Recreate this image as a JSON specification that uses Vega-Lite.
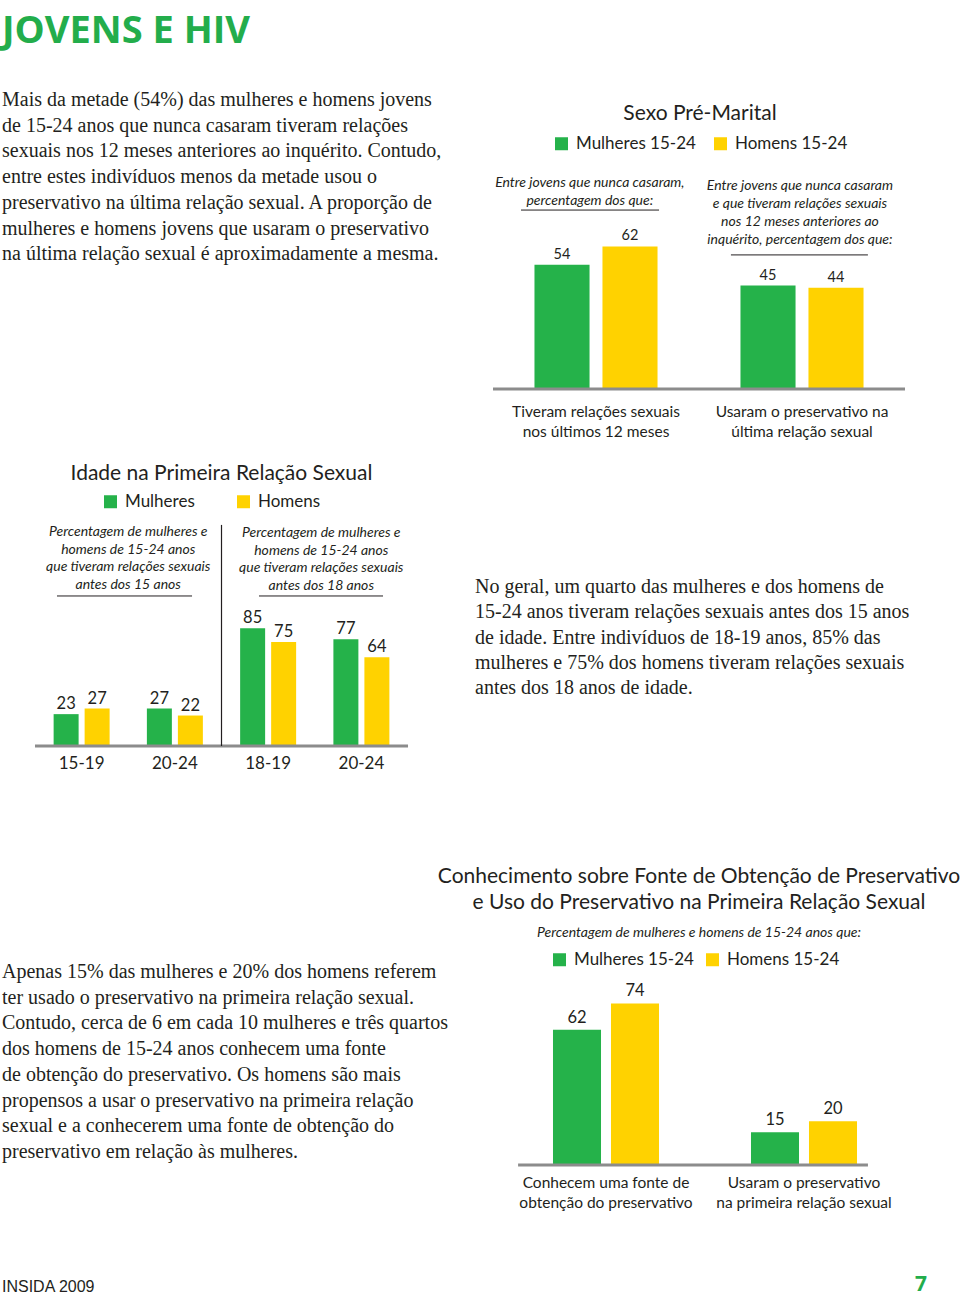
{
  "$schema": "https://vega.github.io/schema/vega-lite/v6.json",
  "background": "white",
  "padding": {"left": 2, "top": 0, "right": 0, "bottom": 3},
  "columns": 2,
  "spacing": 0,
  "bounds": "flush",
  "align": "each",
  "resolve": {
    "scale": {"x": "independent", "y": "independent", "xOffset": "independent", "color": "independent"},
    "legend": {"color": "independent"},
    "axis": {"x": "independent", "y": "independent"}
  },
  "config": {"view": {"stroke": null}, "font": "Lato"},
  "datasets": {
    "sexo": [
      {"grupo": "Tiveram relações sexuais|nos últimos 12 meses", "sexo": "Mulheres 15-24", "valor": 54},
      {"grupo": "Tiveram relações sexuais|nos últimos 12 meses", "sexo": "Homens 15-24", "valor": 62},
      {"grupo": "Usaram o preservativo na|última relação sexual", "sexo": "Mulheres 15-24", "valor": 45},
      {"grupo": "Usaram o preservativo na|última relação sexual", "sexo": "Homens 15-24", "valor": 44}
    ],
    "idade": [
      {"grupo": "A|15-19", "sexo": "Mulheres", "valor": 23},
      {"grupo": "A|15-19", "sexo": "Homens", "valor": 27},
      {"grupo": "A|20-24", "sexo": "Mulheres", "valor": 27},
      {"grupo": "A|20-24", "sexo": "Homens", "valor": 22},
      {"grupo": "B|18-19", "sexo": "Mulheres", "valor": 85},
      {"grupo": "B|18-19", "sexo": "Homens", "valor": 75},
      {"grupo": "B|20-24", "sexo": "Mulheres", "valor": 77},
      {"grupo": "B|20-24", "sexo": "Homens", "valor": 64}
    ],
    "conh": [
      {"grupo": "Conhecem uma fonte de|obtenção do preservativo", "sexo": "Mulheres 15-24", "valor": 62},
      {"grupo": "Conhecem uma fonte de|obtenção do preservativo", "sexo": "Homens 15-24", "valor": 74},
      {"grupo": "Usaram o preservativo|na primeira relação sexual", "sexo": "Mulheres 15-24", "valor": 15},
      {"grupo": "Usaram o preservativo|na primeira relação sexual", "sexo": "Homens 15-24", "valor": 20}
    ]
  },
  "concat": [
    {
      "width": 473, "height": 51,
      "data": {"values": [{"t": "JOVENS E HIV"}]},
      "mark": {"type": "text", "align": "left", "baseline": "bottom", "font": "Open Sans", "fontWeight": "bold", "fontSize": 38, "color": "#23ad4b"},
      "encoding": {
        "x": {"datum": 0, "type": "quantitative", "scale": {"domain": [0, 1]}, "axis": null},
        "y": {"datum": 0, "type": "quantitative", "scale": {"domain": [0, 1]}, "axis": null},
        "text": {"field": "t"}
      }
    },
    {"width": 1, "height": 90, "data": {"values": []}, "mark": "point"},
    {
      "width": 473, "height": 487,
      "data": {"values": [{"t": "Mais da metade (54%) das mulheres e homens jovens\nde 15-24 anos que nunca casaram tiveram relações\nsexuais nos 12 meses anteriores ao inquérito. Contudo,\nentre estes indivíduos menos da metade usou o\npreservativo na última relação sexual. A proporção de\nmulheres e homens jovens que usaram o preservativo\nna última relação sexual é aproximadamente a mesma."}]},
      "mark": {"type": "text", "align": "left", "baseline": "top", "font": "Liberation Serif", "fontSize": 20, "lineHeight": 25.7, "lineBreak": "\n", "color": "#231f20"},
      "encoding": {
        "x": {"datum": 0, "type": "quantitative", "scale": {"domain": [0, 1]}, "axis": null},
        "y": {"datum": 1, "type": "quantitative", "scale": {"domain": [0, 1]}, "axis": null},
        "text": {"field": "t"}
      }
    },
    {
      "width": 430, "height": 299,
      "title": {"text": "Sexo Pré-Marital", "font": "Lato", "fontSize": 21, "fontWeight": "normal", "color": "#231f20", "anchor": "middle", "frame": "group", "offset": -34, "dx": 10},
      "layer": [
        {
          "data": {"name": "sexo"},
          "mark": {"type": "bar"},
          "encoding": {
            "x": {"field": "grupo", "type": "nominal", "scale": {"domain": ["Tiveram relações sexuais|nos últimos 12 meses", "Usaram o preservativo na|última relação sexual"], "paddingInner": 0, "paddingOuter": 0.0437, "align": 1},
              "axis": {"title": null, "ticks": false, "grid": false, "domain": false, "labelAngle": 0, "labelExpr": "split(datum.label, '|')", "labelFont": "Lato", "labelFontSize": 15.5, "labelColor": "#231f20", "labelLineHeight": 20, "labelPadding": 15, "labelLimit": 0}},
            "xOffset": {"field": "sexo", "type": "nominal", "scale": {"domain": ["Mulheres 15-24", "Homens 15-24"], "paddingInner": 0.19, "paddingOuter": 0.61}},
            "y": {"field": "valor", "type": "quantitative", "scale": {"domain": [0, 130], "nice": false}, "axis": null},
            "color": {"field": "sexo", "type": "nominal", "scale": {"domain": ["Mulheres 15-24", "Homens 15-24"], "range": ["#25b24a", "#ffd200"]},
              "legend": {"title": null, "orient": "none", "legendX": 78, "legendY": 45, "direction": "horizontal", "symbolType": "square", "symbolSize": 169, "symbolStrokeWidth": 0, "labelFont": "Lato", "labelFontSize": 17, "labelColor": "#231f20", "labelOffset": 6, "columnPadding": 16}}
          }
        },
        {
          "data": {"name": "sexo"},
          "mark": {"type": "text", "baseline": "alphabetic", "dy": -6, "font": "Lato", "fontSize": 14.5, "color": "#231f20"},
          "encoding": {
            "x": {"field": "grupo", "type": "nominal"},
            "xOffset": {"field": "sexo", "type": "nominal"},
            "y": {"field": "valor", "type": "quantitative"},
            "text": {"field": "valor", "type": "quantitative"}
          }
        },
        {
          "data": {"values": [{}]},
          "mark": {"type": "rule", "color": "#8c8c8c", "strokeWidth": 3},
          "encoding": {
            "x": {"datum": "Tiveram relações sexuais|nos últimos 12 meses", "bandPosition": 0},
            "x2": {"datum": "Usaram o preservativo na|última relação sexual", "bandPosition": 1},
            "y": {"datum": 0}
          }
        },
        {
          "data": {"values": [{"nota": "Entre jovens que nunca casaram,\npercentagem dos que:"}]},
          "mark": {"type": "text", "font": "Lato", "fontStyle": "italic", "fontSize": 14, "lineBreak": "\n", "lineHeight": 18, "baseline": "middle", "align": "center", "color": "#231f20"},
          "encoding": {
            "x": {"datum": "Tiveram relações sexuais|nos últimos 12 meses", "bandPosition": 0.47},
            "y": {"datum": 89.6},
            "text": {"field": "nota"}
          }
        },
        {
          "data": {"values": [{"nota": "Entre jovens que nunca casaram\ne que tiveram relações sexuais\nnos 12 meses anteriores ao\ninquérito, percentagem dos que:"}]},
          "mark": {"type": "text", "font": "Lato", "fontStyle": "italic", "fontSize": 14, "lineBreak": "\n", "lineHeight": 18, "baseline": "middle", "align": "center", "color": "#231f20"},
          "encoding": {
            "x": {"datum": "Usaram o preservativo na|última relação sexual", "bandPosition": 0.49},
            "y": {"datum": 88.3},
            "text": {"field": "nota"}
          }
        },
        {
          "data": {"values": [{}]},
          "mark": {"type": "rule", "color": "#231f20", "strokeWidth": 1},
          "encoding": {
            "x": {"datum": "Tiveram relações sexuais|nos últimos 12 meses", "bandPosition": 0.136},
            "x2": {"datum": "Tiveram relações sexuais|nos últimos 12 meses", "bandPosition": 0.806},
            "y": {"datum": 77.8}
          }
        },
        {
          "data": {"values": [{}]},
          "mark": {"type": "rule", "color": "#231f20", "strokeWidth": 1},
          "encoding": {
            "x": {"datum": "Usaram o preservativo na|última relação sexual", "bandPosition": 0.155},
            "x2": {"datum": "Usaram o preservativo na|última relação sexual", "bandPosition": 0.82},
            "y": {"datum": 58.3}
          }
        }
      ]
    },
    {
      "width": 473, "height": 169,
      "title": {"text": "Idade na Primeira Relação Sexual", "font": "Lato", "fontSize": 21, "fontWeight": "normal", "color": "#231f20", "anchor": "middle", "frame": "group", "offset": 9, "dx": -17},
      "layer": [
        {
          "data": {"name": "idade"},
          "mark": {"type": "bar"},
          "encoding": {
            "x": {"field": "grupo", "type": "nominal", "scale": {"domain": ["A|15-19", "A|20-24", "B|18-19", "B|20-24"], "paddingInner": 0, "paddingOuter": 0.536, "align": 0.33},
              "axis": {"title": null, "ticks": false, "grid": false, "domain": false, "labelAngle": 0, "labelExpr": "split(datum.label, '|')[1]", "labelFont": "Lato", "labelFontSize": 17, "labelColor": "#231f20", "labelPadding": 9, "labelLimit": 0}},
            "xOffset": {"field": "sexo", "type": "nominal", "scale": {"domain": ["Mulheres", "Homens"], "paddingInner": 0.194, "paddingOuter": 0.601}},
            "y": {"field": "valor", "type": "quantitative", "scale": {"domain": [0, 122], "nice": false}, "axis": null},
            "color": {"field": "sexo", "type": "nominal", "scale": {"domain": ["Mulheres", "Homens"], "range": ["#25b24a", "#ffd200"]},
              "legend": {"title": null, "orient": "none", "legendX": 100, "legendY": -84, "direction": "horizontal", "symbolType": "square", "symbolSize": 169, "symbolStrokeWidth": 0, "labelFont": "Lato", "labelFontSize": 17, "labelColor": "#231f20", "labelOffset": 6, "columnPadding": 40}}
          }
        },
        {
          "data": {"name": "idade"},
          "mark": {"type": "text", "baseline": "alphabetic", "dy": -5, "font": "Lato", "fontSize": 16.5, "color": "#231f20"},
          "encoding": {
            "x": {"field": "grupo", "type": "nominal"},
            "xOffset": {"field": "sexo", "type": "nominal"},
            "y": {"field": "valor", "type": "quantitative"},
            "text": {"field": "valor", "type": "quantitative"}
          }
        },
        {
          "data": {"values": [{}]},
          "mark": {"type": "rule", "color": "#8c8c8c", "strokeWidth": 3},
          "encoding": {
            "x": {"datum": "A|15-19", "bandPosition": 0},
            "x2": {"datum": "B|20-24", "bandPosition": 1},
            "y": {"datum": 0}
          }
        },
        {
          "data": {"values": [{}]},
          "mark": {"type": "rule", "color": "#231f20", "strokeWidth": 1.2},
          "encoding": {
            "x": {"datum": "A|20-24", "bandPosition": 1},
            "y": {"datum": 159.6},
            "y2": {"datum": 0}
          }
        },
        {
          "data": {"values": [{"nota": "Percentagem de mulheres e\nhomens de 15-24 anos\nque tiveram relações sexuais\nantes dos 15 anos"}]},
          "mark": {"type": "text", "font": "Lato", "fontStyle": "italic", "fontSize": 14, "lineBreak": "\n", "lineHeight": 17.7, "baseline": "middle", "align": "center", "color": "#231f20"},
          "encoding": {
            "x": {"datum": "A|15-19", "bandPosition": 1},
            "y": {"datum": 154.5},
            "text": {"field": "nota"}
          }
        },
        {
          "data": {"values": [{"nota": "Percentagem de mulheres e\nhomens de 15-24 anos\nque tiveram relações sexuais\nantes dos 18 anos"}]},
          "mark": {"type": "text", "font": "Lato", "fontStyle": "italic", "fontSize": 14, "lineBreak": "\n", "lineHeight": 17.7, "baseline": "middle", "align": "center", "color": "#231f20"},
          "encoding": {
            "x": {"datum": "B|20-24", "bandPosition": 0.07},
            "y": {"datum": 153.8},
            "text": {"field": "nota"}
          }
        },
        {
          "data": {"values": [{}]},
          "mark": {"type": "rule", "color": "#231f20", "strokeWidth": 1},
          "encoding": {
            "x": {"datum": "A|15-19", "bandPosition": 0.236},
            "x2": {"datum": "A|20-24", "bandPosition": 0.684},
            "y": {"datum": 108.3}
          }
        },
        {
          "data": {"values": [{}]},
          "mark": {"type": "rule", "color": "#231f20", "strokeWidth": 1},
          "encoding": {
            "x": {"datum": "B|18-19", "bandPosition": 0.402},
            "x2": {"datum": "B|20-24", "bandPosition": 0.732},
            "y": {"datum": 108.3}
          }
        }
      ]
    },
    {
      "width": 455, "height": 385,
      "data": {"values": [{"t": "No geral, um quarto das mulheres e dos homens de\n15-24 anos tiveram relações sexuais antes dos 15 anos\nde idade. Entre indivíduos de 18-19 anos, 85% das\nmulheres e 75% dos homens tiveram relações sexuais\nantes dos 18 anos de idade."}]},
      "mark": {"type": "text", "align": "left", "baseline": "top", "font": "Liberation Serif", "fontSize": 20, "lineHeight": 25.3, "lineBreak": "\n", "color": "#231f20"},
      "encoding": {
        "x": {"datum": 0, "type": "quantitative", "scale": {"domain": [0, 1]}, "axis": null},
        "y": {"datum": 1, "type": "quantitative", "scale": {"domain": [0, 1]}, "axis": null},
        "text": {"field": "t"}
      }
    },
    {
      "width": 473, "height": 203,
      "data": {"values": [{"t": "Apenas 15% das mulheres e 20% dos homens referem\nter usado o preservativo na primeira relação sexual.\nContudo, cerca de 6 em cada 10 mulheres e três quartos\ndos homens de 15-24 anos conhecem uma fonte\nde obtenção do preservativo. Os homens são mais\npropensos a usar o preservativo na primeira relação\nsexual e a conhecerem uma fonte de obtenção do\npreservativo em relação às mulheres."}]},
      "mark": {"type": "text", "align": "left", "baseline": "top", "font": "Liberation Serif", "fontSize": 20, "lineHeight": 25.7, "lineBreak": "\n", "color": "#231f20"},
      "encoding": {
        "x": {"datum": 0, "type": "quantitative", "scale": {"domain": [0, 1]}, "axis": null},
        "y": {"datum": 1, "type": "quantitative", "scale": {"domain": [0, 1]}, "axis": null},
        "text": {"field": "t"}
      }
    },
    {
      "width": 428, "height": 203,
      "title": {"text": ["Conhecimento sobre Fonte de Obtenção de Preservativo", "e Uso do Preservativo na Primeira Relação Sexual"], "lineHeight": 26, "font": "Lato", "fontSize": 21, "fontWeight": "normal", "color": "#231f20", "anchor": "middle", "frame": "group", "offset": 11, "dx": 10,
        "subtitle": "Percentagem de mulheres e homens de 15-24 anos que:", "subtitleFont": "Lato", "subtitleFontStyle": "italic", "subtitleFontSize": 14, "subtitleColor": "#231f20", "subtitlePadding": 13},
      "layer": [
        {
          "data": {"name": "conh"},
          "mark": {"type": "bar"},
          "encoding": {
            "x": {"field": "grupo", "type": "nominal", "scale": {"domain": ["Conhecem uma fonte de|obtenção do preservativo", "Usaram o preservativo|na primeira relação sexual"], "paddingInner": 0, "paddingOuter": 0.0808, "align": 1},
              "axis": {"title": null, "ticks": false, "grid": false, "domain": false, "labelAngle": 0, "labelExpr": "split(datum.label, '|')", "labelFont": "Lato", "labelFontSize": 15.5, "labelColor": "#231f20", "labelLineHeight": 20, "labelPadding": 10, "labelLimit": 0}},
            "xOffset": {"field": "sexo", "type": "nominal", "scale": {"domain": ["Mulheres 15-24", "Homens 15-24"], "paddingInner": 0.172, "paddingOuter": 0.793}},
            "y": {"field": "valor", "type": "quantitative", "scale": {"domain": [0, 93], "nice": false}, "axis": null},
            "color": {"field": "sexo", "type": "nominal", "scale": {"domain": ["Mulheres 15-24", "Homens 15-24"], "range": ["#25b24a", "#ffd200"]},
              "legend": {"title": null, "orient": "none", "legendX": 76, "legendY": -11, "direction": "horizontal", "symbolType": "square", "symbolSize": 169, "symbolStrokeWidth": 0, "labelFont": "Lato", "labelFontSize": 17, "labelColor": "#231f20", "labelOffset": 6, "columnPadding": 10}}
          }
        },
        {
          "data": {"name": "conh"},
          "mark": {"type": "text", "baseline": "alphabetic", "dy": -7, "font": "Lato", "fontSize": 16.5, "color": "#231f20"},
          "encoding": {
            "x": {"field": "grupo", "type": "nominal"},
            "xOffset": {"field": "sexo", "type": "nominal"},
            "y": {"field": "valor", "type": "quantitative"},
            "text": {"field": "valor", "type": "quantitative"}
          }
        },
        {
          "data": {"values": [{}]},
          "mark": {"type": "rule", "color": "#8c8c8c", "strokeWidth": 3},
          "encoding": {
            "x": {"datum": "Conhecem uma fonte de|obtenção do preservativo", "bandPosition": 0.056},
            "x2": {"datum": "Usaram o preservativo|na primeira relação sexual", "bandPosition": 0.823},
            "y": {"datum": 0}
          }
        }
      ]
    },
    {
      "width": 473, "height": 130,
      "data": {"values": [{"t": "INSIDA 2009"}]},
      "mark": {"type": "text", "align": "left", "baseline": "bottom", "font": "Liberation Sans", "fontSize": 16, "color": "#231f20"},
      "encoding": {
        "x": {"datum": 0, "type": "quantitative", "scale": {"domain": [0, 1]}, "axis": null},
        "y": {"datum": 0, "type": "quantitative", "scale": {"domain": [0, 1]}, "axis": null},
        "text": {"field": "t"}
      }
    },
    {
      "width": 452, "height": 130,
      "data": {"values": [{"t": "7"}]},
      "mark": {"type": "text", "align": "right", "baseline": "bottom", "font": "Open Sans", "fontWeight": "bold", "fontSize": 21, "color": "#23ad4b"},
      "encoding": {
        "x": {"datum": 1, "type": "quantitative", "scale": {"domain": [0, 1]}, "axis": null},
        "y": {"datum": 0, "type": "quantitative", "scale": {"domain": [0, 1]}, "axis": null},
        "text": {"field": "t"}
      }
    }
  ]
}
